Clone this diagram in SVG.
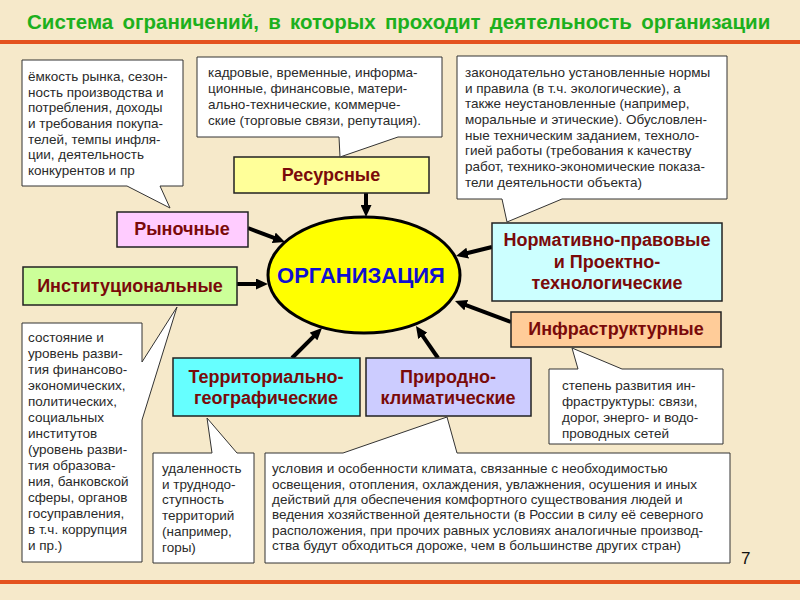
<svg xmlns="http://www.w3.org/2000/svg" width="800" height="600" viewBox="0 0 800 600">
<style>
.bg{fill:#F6E9CA}
.rule{stroke:#E4521E;stroke-width:4}
.title{font-family:"Liberation Sans",Arial,sans-serif;font-weight:bold;font-size:20.5px;fill:#1DB01D;word-spacing:3.5px}
.box{stroke:#222;stroke-width:1.5}
.lbl{font-family:"Liberation Sans",Arial,sans-serif;font-weight:bold;font-size:18px;fill:#7A0A0A;text-anchor:middle}
.org{font-family:"Liberation Sans",Arial,sans-serif;font-weight:bold;font-size:22px;fill:#1010D0;text-anchor:middle}
.call{fill:#FFFFFF;stroke:#333;stroke-width:1}
.ct{font-family:"Liberation Sans",Arial,sans-serif;font-size:13.5px;fill:#2A2A2A}
.arr{stroke:#000;stroke-width:4;fill:none;marker-end:url(#ah)}
.num{font-family:"Liberation Sans",Arial,sans-serif;font-size:17px;fill:#111}
</style>
<defs>
<marker id="ah" markerUnits="userSpaceOnUse" markerWidth="12" markerHeight="11" refX="1" refY="5.5" orient="auto">
<path d="M0,0 L12,5.5 L0,11 z" fill="#000"/>
</marker>
</defs>
<rect class="bg" x="0" y="0" width="800" height="600"/>
<text class="title" x="27" y="29">Система ограничений, в которых проходит деятельность организации</text>
<line class="rule" x1="0" y1="42" x2="800" y2="42"/>
<line class="rule" x1="0" y1="582" x2="800" y2="582"/>

<g id="connectors">
<line class="arr" x1="366" y1="193" x2="366" y2="206"/>
<line class="arr" x1="248" y1="228" x2="274.7" y2="238.1"/>
<line class="arr" x1="237" y1="284" x2="257" y2="284"/>
<line class="arr" x1="492" y1="247" x2="466.7" y2="253.3"/>
<line class="arr" x1="511" y1="322" x2="465.3" y2="304.9"/>
<line class="arr" x1="292" y1="358" x2="314.2" y2="335.8"/>
<line class="arr" x1="438" y1="358" x2="422.2" y2="335.1"/>
</g>

<g id="organization">
<ellipse cx="364" cy="275" rx="96" ry="58" fill="#FFFF00" stroke="#000" stroke-width="3"/>
<text class="org" x="361" y="283">ОРГАНИЗАЦИЯ</text>
</g>

<g id="resursnye">
<rect class="box" x="234" y="157" width="195" height="36" fill="#FFFF99"/>
<text class="lbl" x="331" y="181">Ресурсные</text>
</g>
<g id="rynochnye">
<rect class="box" x="117" y="212" width="131" height="35" fill="#FFCCFF"/>
<text class="lbl" x="182" y="235">Рыночные</text>
</g>
<g id="institutsionalnye">
<rect class="box" x="23" y="267" width="214" height="38" fill="#CCFF99"/>
<text class="lbl" x="130" y="292">Институциональные</text>
</g>
<g id="normativno">
<rect class="box" x="492" y="223" width="230" height="78" fill="#CCFFFF"/>
<text class="lbl" x="607" y="246">Нормативно-правовые</text>
<text class="lbl" x="607" y="268">и Проектно-</text>
<text class="lbl" x="607" y="289">технологические</text>
</g>
<g id="infrastruktura">
<rect class="box" x="511" y="312" width="210" height="35" fill="#FFCC99"/>
<text class="lbl" x="616" y="335">Инфраструктурные</text>
</g>
<g id="territorialno">
<rect class="box" x="173" y="358" width="187" height="58" fill="#66FFFF"/>
<text class="lbl" x="266" y="383">Территориально-</text>
<text class="lbl" x="266" y="404">географические</text>
</g>
<g id="prirodno">
<rect class="box" x="366" y="358" width="165" height="58" fill="#CCCCFF"/>
<text class="lbl" x="448" y="383">Природно-</text>
<text class="lbl" x="448" y="404">климатические</text>
</g>

<g id="note-rynok">
<polygon class="call" points="22,60 183,60 183,186 160,186 170,208 127,186 22,186"/>
<text class="ct"><tspan x="28" y="81">ёмкость рынка, сезон-</tspan><tspan x="28" y="96.5">ность производства и</tspan><tspan x="28" y="112">потребления, доходы</tspan><tspan x="28" y="128">и требования покупа-</tspan><tspan x="28" y="143.5">телей, темпы инфля-</tspan><tspan x="28" y="159">ции, деятельность</tspan><tspan x="28" y="175">конкурентов и пр</tspan></text>
</g>
<g id="note-resursy">
<polygon class="call" points="197,57 442,57 442,137 398,137 340,157 339,137 197,137"/>
<text class="ct"><tspan x="208" y="77">кадровые, временные, информа-</tspan><tspan x="208" y="93">ционные, финансовые, матери-</tspan><tspan x="208" y="109">ально-технические, коммерче-</tspan><tspan x="208" y="125">ские (торговые связи, репутация).</tspan></text>
</g>
<g id="note-normy">
<polygon class="call" points="457,56 727,56 727,199 562,199 507,222 502,199 457,199"/>
<text class="ct"><tspan x="465" y="77">законодательно установленные нормы</tspan><tspan x="465" y="92.5">и правила (в т.ч. экологические), а</tspan><tspan x="465" y="108">также неустановленные (например,</tspan><tspan x="465" y="124">моральные и этические). Обусловлен-</tspan><tspan x="465" y="139.5">ные техническим заданием, техноло-</tspan><tspan x="465" y="155">гией работы (требования к качеству</tspan><tspan x="465" y="171">работ, технико-экономические показа-</tspan><tspan x="465" y="187">тели деятельности объекта)</tspan></text>
</g>
<g id="note-instituty">
<polygon class="call" points="22,323 142,323 142,362 177,307 142,420 142,562 22,562"/>
<text class="ct"><tspan x="28" y="342">состояние и</tspan><tspan x="28" y="358">уровень разви-</tspan><tspan x="28" y="374">тия финансово-</tspan><tspan x="28" y="390">экономических,</tspan><tspan x="28" y="406">политических,</tspan><tspan x="28" y="422">социальных</tspan><tspan x="28" y="438">институтов</tspan><tspan x="28" y="454">(уровень разви-</tspan><tspan x="28" y="470">тия образова-</tspan><tspan x="28" y="486">ния, банковской</tspan><tspan x="28" y="502">сферы, органов</tspan><tspan x="28" y="518">госуправления,</tspan><tspan x="28" y="534">в т.ч. коррупция</tspan><tspan x="28" y="550">и пр.)</tspan></text>
</g>
<g id="note-infra">
<polygon class="call" points="549,369 578,369 572,348 622,369 723,369 723,444 549,444"/>
<text class="ct"><tspan x="562" y="390">степень развития ин-</tspan><tspan x="562" y="406">фраструктуры: связи,</tspan><tspan x="562" y="422">дорог, энерго- и водо-</tspan><tspan x="562" y="438">проводных сетей</tspan></text>
</g>
<g id="note-territoriya">
<polygon class="call" points="153,453 212,453 207,418 237,453 254,453 254,563 153,563"/>
<text class="ct"><tspan x="162" y="473">удаленность</tspan><tspan x="162" y="489">и труднодо-</tspan><tspan x="162" y="504">ступность</tspan><tspan x="162" y="520">территорий</tspan><tspan x="162" y="536">(например,</tspan><tspan x="162" y="552">горы)</tspan></text>
</g>
<g id="note-klimat">
<polygon class="call" points="265,453 343,453 447,417 457,453 730,453 730,563 265,563"/>
<text class="ct"><tspan x="272" y="473">условия и особенности климата, связанные с необходимостью</tspan><tspan x="272" y="488.5">освещения, отопления, охлаждения, увлажнения, осушения и иных</tspan><tspan x="272" y="504">действий для обеспечения комфортного существования людей и</tspan><tspan x="272" y="519">ведения хозяйственной деятельности (в России в силу её северного</tspan><tspan x="272" y="534.5">расположения, при прочих равных условиях аналогичные производ-</tspan><tspan x="272" y="550">ства будут обходиться дороже, чем в большинстве других стран)</tspan></text>
</g>
<text class="num" x="741" y="564">7</text>
</svg>
